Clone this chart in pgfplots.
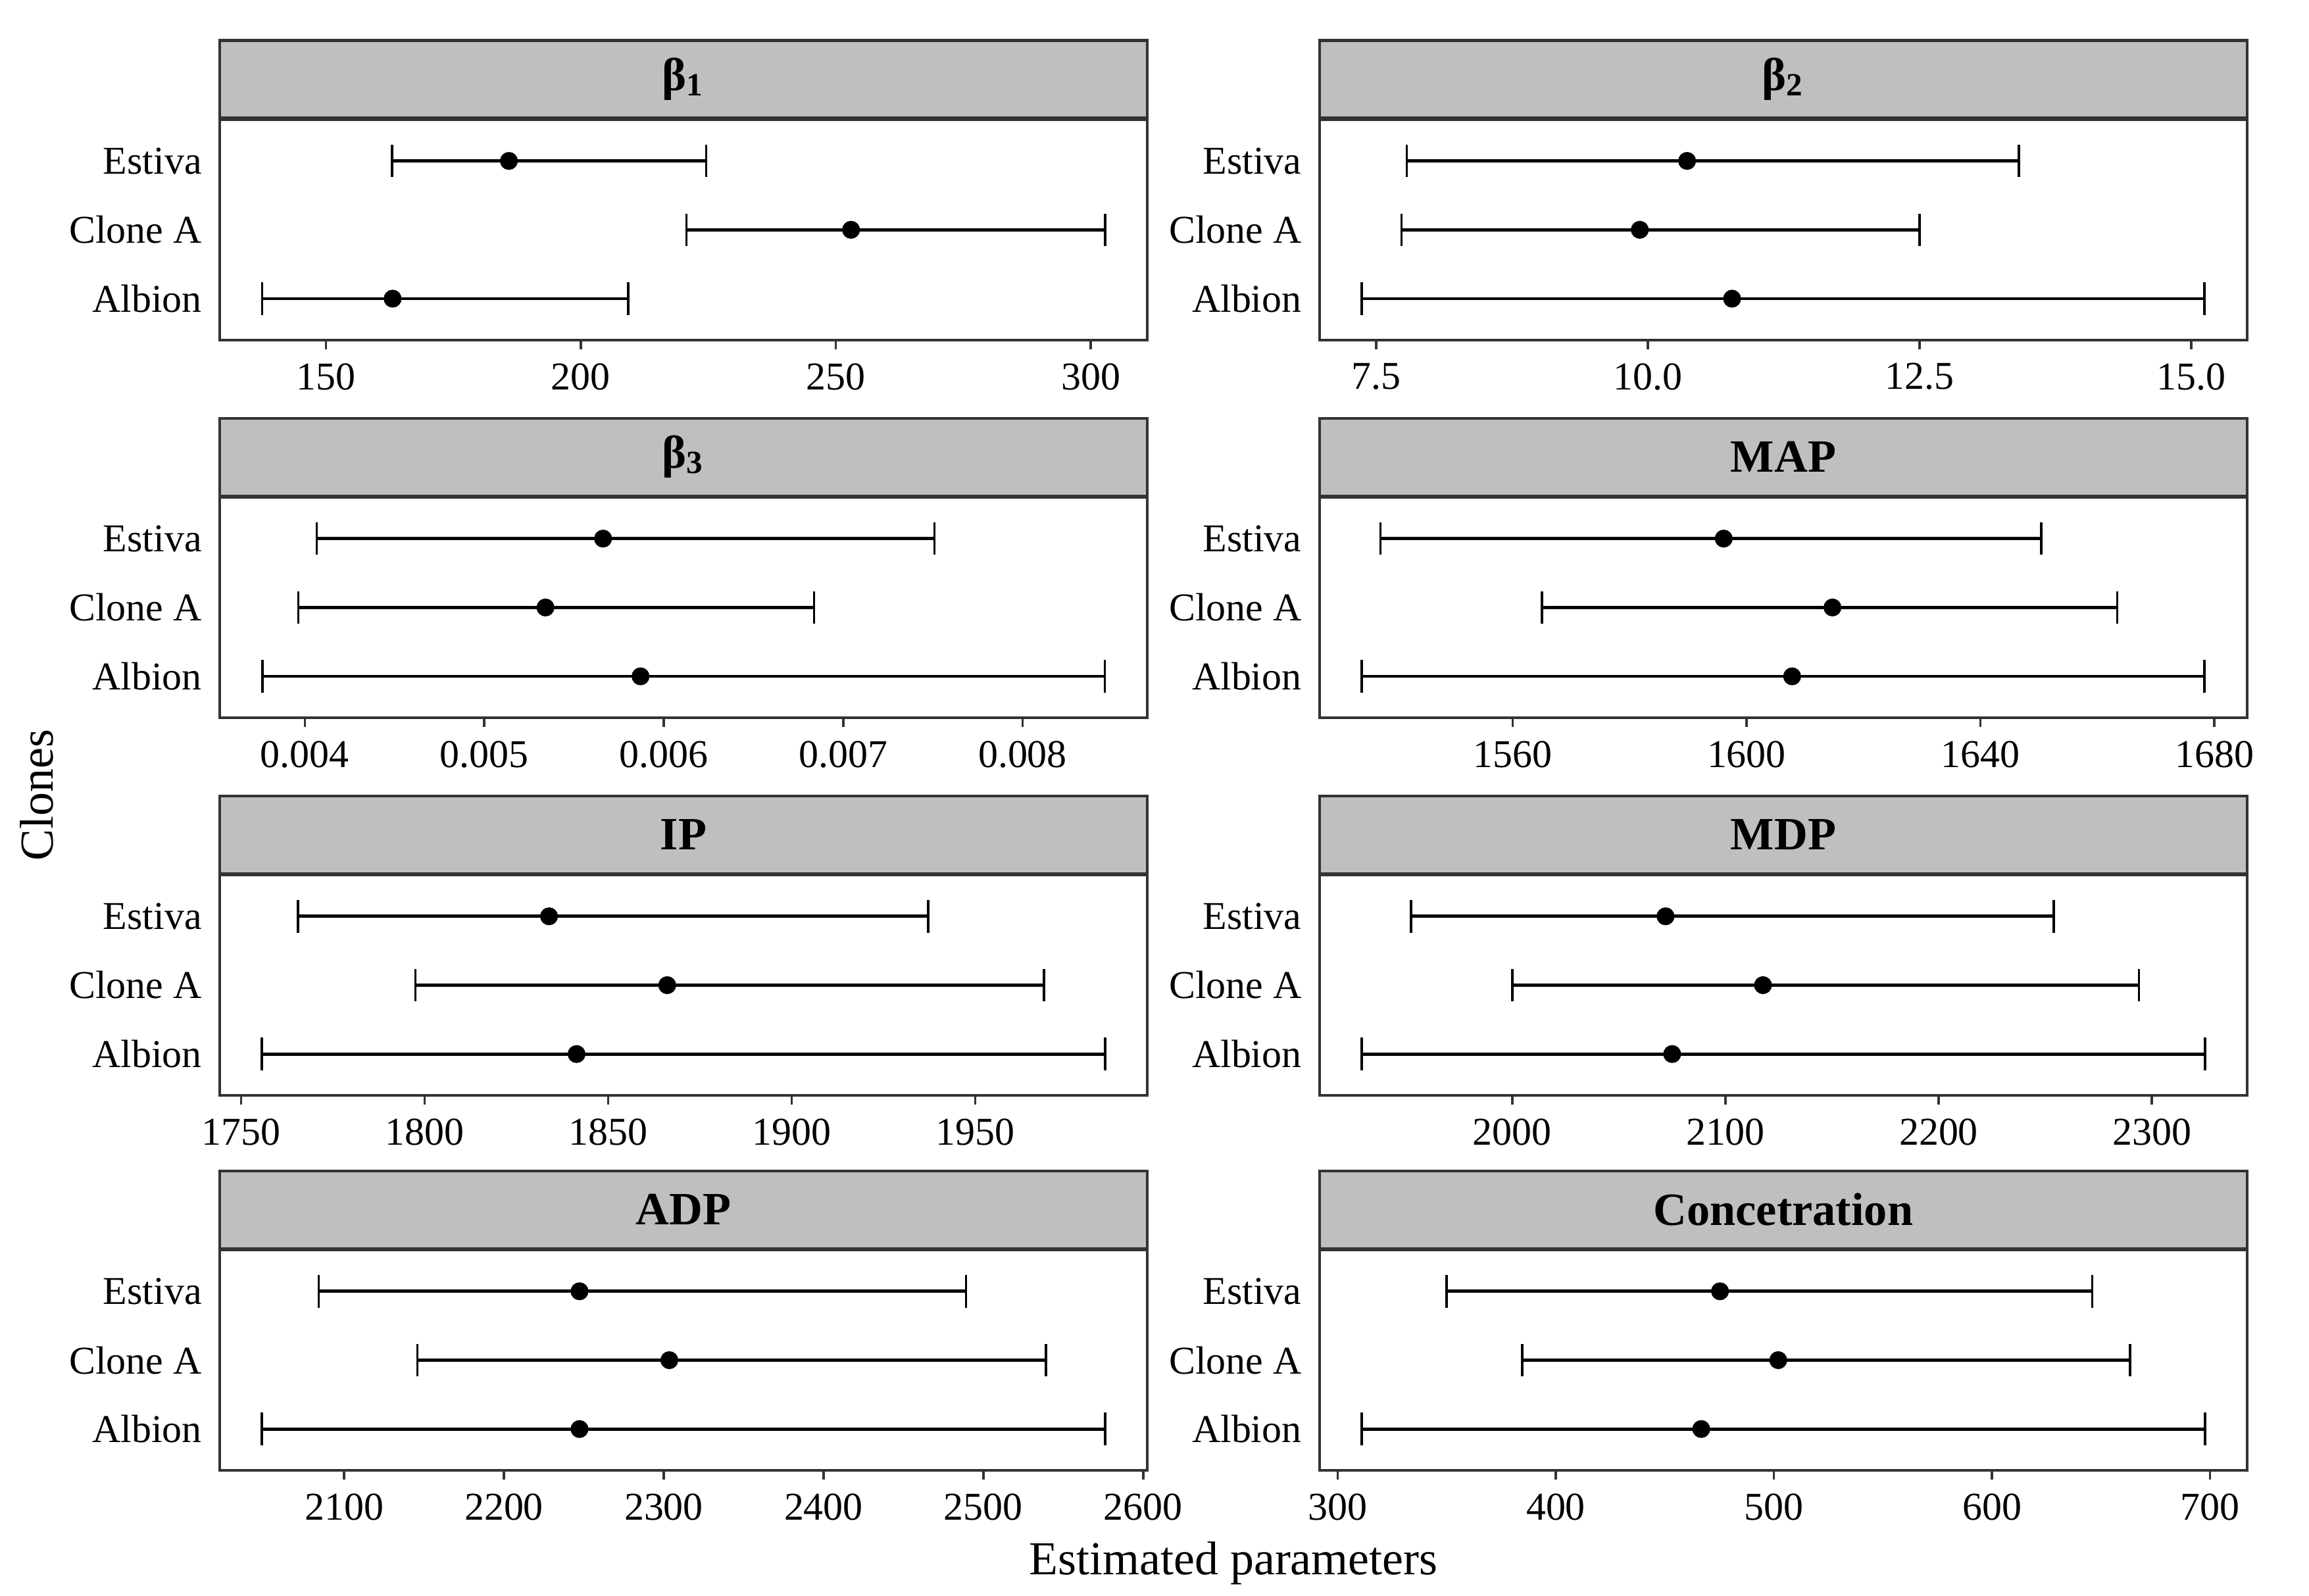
\documentclass[border=0pt]{standalone}
\usepackage{fontspec}
\setmainfont{Liberation Serif}
\usepackage{pgfplots}
\usepackage{pgfplotstable}
\pgfplotsset{compat=1.18}

\definecolor{stripgray}{RGB}{191,191,191}
\definecolor{framegray}{RGB}{51,51,51}
\newcommand\ticksize{\fontsize{7.5}{9}\selectfont}
\newcommand\stripsize{\fontsize{8.8}{10}\selectfont\bfseries}
\newcommand\titlesize{\fontsize{9}{10.5}\selectfont}

% y: 1 = Albion, 2 = Clone A, 3 = Estiva
\pgfplotstableread{
y lo est hi
3 163.0 185.9 224.6
2 220.7 253.0 302.8
1 137.5 163.1 209.3
}\tbBa
\pgfplotstableread{
y lo est hi
3 7.781 10.361 13.416
2 7.734 9.926 12.500
1 7.366 10.775 15.120
}\tbBb
\pgfplotstableread{
y lo est hi
3 0.004067 0.005662 0.007508
2 0.003963 0.005341 0.006838
1 0.003763 0.005871 0.008458
}\tbBc
\pgfplotstableread{
y lo est hi
3 1537.4 1596.1 1650.4
2 1565.0 1614.7 1663.4
1 1534.2 1607.8 1678.3
}\tbMAP
\pgfplotstableread{
y lo est hi
3 1765.5 1833.9 1937.2
2 1797.5 1866.1 1968.7
1 1755.7 1841.4 1985.4
}\tbIP
\pgfplotstableread{
y lo est hi
3 1952.6 2071.9 2254.0
2 2000.0 2117.6 2293.9
1 1929.4 2075.0 2324.9
}\tbMDP
\pgfplotstableread{
y lo est hi
3 2084.1 2247.3 2489.1
2 2145.8 2303.5 2539.2
1 2048.6 2247.3 2576.2
}\tbADP
\pgfplotstableread{
y lo est hi
3 350.0 475.3 646.0
2 384.7 502.0 663.3
1 311.0 466.7 697.7
}\tbConc

\pgfplotsset{
  panel/.style={
    scale only axis, width=62.04mm, height=14.74mm,
    anchor=south west,
    ymin=0.4, ymax=3.6,
    ytick={1,2,3}, yticklabels={Albion,Clone A,Estiva},
    tick pos=left, tick align=outside, major tick length=1.75pt,
    ytick style={draw=none},
    xtick style={line width=0.45pt, draw=framegray},
    axis line style={line width=0.55pt, draw=framegray},
    tick label style={font=\ticksize},
    yticklabel style={xshift=0.65mm},
    xticklabel style={yshift=0.3mm},
    every axis title shift=0pt,
    title style={at={(0.5,1)}, anchor=south, yshift=0pt,
      draw=framegray, fill=stripgray, line width=0.55pt,
      minimum width=62.04mm, minimum height=5.19mm, inner sep=0pt,
      font=\stripsize},
  },
  ci/.style={black, only marks, mark=*, mark size=1.5pt,
    error bars/.cd, x dir=both, x explicit, error mark=|,
    error bar style={line width=0.6pt, black},
    error mark options={line width=0.45pt, mark size=3.1pt, black}},
}

\begin{document}
\begin{tikzpicture}
\useasboundingbox (0,0) rectangle (154.44mm,106.74mm);

% row 1
\begin{axis}[panel, at={(14.70mm,84.00mm)}, title={β\textsubscript{1}},
  xmin=129.2, xmax=311.1, xtick={150,200,250,300},
  xticklabels={150,200,250,300}]
\addplot[ci] table[x=est, y=y, x error plus expr=\thisrow{hi}-\thisrow{est},
  x error minus expr=\thisrow{est}-\thisrow{lo}] {\tbBa};
\end{axis}
\begin{axis}[panel, at={(88.26mm,84.00mm)}, title={β\textsubscript{2}},
  xmin=6.979, xmax=15.515, xtick={7.5,10,12.5,15},
  xticklabels={7.5,10.0,12.5,15.0}]
\addplot[ci] table[x=est, y=y, x error plus expr=\thisrow{hi}-\thisrow{est},
  x error minus expr=\thisrow{est}-\thisrow{lo}] {\tbBb};
\end{axis}

% row 2
\begin{axis}[panel, at={(14.70mm,58.74mm)}, title={β\textsubscript{3}},
  xmin=0.003526, xmax=0.008695, xtick={0.004,0.005,0.006,0.007,0.008},
  xticklabels={0.004,0.005,0.006,0.007,0.008}, scaled x ticks=false]
\addplot[ci] table[x=est, y=y, x error plus expr=\thisrow{hi}-\thisrow{est},
  x error minus expr=\thisrow{est}-\thisrow{lo}] {\tbBc};
\end{axis}
\begin{axis}[panel, at={(88.26mm,58.74mm)}, title={MAP},
  xmin=1527.0, xmax=1685.6, xtick={1560,1600,1640,1680},
  xticklabels={1560,1600,1640,1680}]
\addplot[ci] table[x=est, y=y, x error plus expr=\thisrow{hi}-\thisrow{est},
  x error minus expr=\thisrow{est}-\thisrow{lo}] {\tbMAP};
\end{axis}

% row 3
\begin{axis}[panel, at={(14.70mm,33.48mm)}, title={IP},
  xmin=1744.2, xmax=1996.9, xtick={1750,1800,1850,1900,1950},
  xticklabels={1750,1800,1850,1900,1950}]
\addplot[ci] table[x=est, y=y, x error plus expr=\thisrow{hi}-\thisrow{est},
  x error minus expr=\thisrow{est}-\thisrow{lo}] {\tbIP};
\end{axis}
\begin{axis}[panel, at={(88.26mm,33.48mm)}, title={MDP},
  xmin=1909.6, xmax=2344.7, xtick={2000,2100,2200,2300},
  xticklabels={2000,2100,2200,2300}]
\addplot[ci] table[x=est, y=y, x error plus expr=\thisrow{hi}-\thisrow{est},
  x error minus expr=\thisrow{est}-\thisrow{lo}] {\tbMDP};
\end{axis}

% row 4
\begin{axis}[panel, at={(14.70mm,8.40mm)}, title={ADP},
  xmin=2022.2, xmax=2602.6, xtick={2100,2200,2300,2400,2500,2600},
  xticklabels={2100,2200,2300,2400,2500,2600}]
\addplot[ci] table[x=est, y=y, x error plus expr=\thisrow{hi}-\thisrow{est},
  x error minus expr=\thisrow{est}-\thisrow{lo}] {\tbADP};
\end{axis}
\begin{axis}[panel, at={(88.26mm,8.40mm)}, title={Concetration},
  xmin=291.7, xmax=717.0, xtick={300,400,500,600,700},
  xticklabels={300,400,500,600,700}]
\addplot[ci] table[x=est, y=y, x error plus expr=\thisrow{hi}-\thisrow{est},
  x error minus expr=\thisrow{est}-\thisrow{lo}] {\tbConc};
\end{axis}

% axis titles
\node[font=\titlesize, anchor=base] at (82.5mm,1.41mm) {Estimated parameters};
\node[font=\titlesize, anchor=base, rotate=90] at (3.52mm,53.55mm) {Clones};
\end{tikzpicture}
\end{document}
